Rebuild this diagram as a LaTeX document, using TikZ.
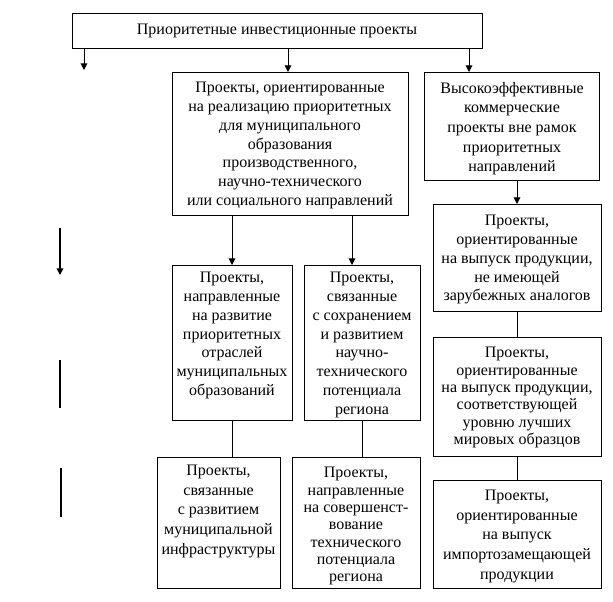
\documentclass[tikz,border=0pt]{standalone}
\usepackage{fontspec}
\setmainfont{Liberation Serif}
\usetikzlibrary{arrows.meta,fit}
\begin{document}
\begin{tikzpicture}[x=0.75pt,y=-0.75pt,
  box/.style={draw,line width=0.75pt,inner sep=0pt,outer sep=0pt},
  txt/.style={align=center,inner sep=0pt,font=\fontsize{12pt}{14.2pt}\selectfont},
  ttxt/.style={txt,anchor=north},
  tight/.style={font=\fontsize{12pt}{13pt}\selectfont},
  loose/.style={font=\fontsize{12pt}{14.7pt}\selectfont},
  arr/.style={line width=0.75pt,-{Triangle[width=5pt,length=5pt]}},
  ln/.style={line width=0.75pt},
  sideline/.style={line width=1pt}]
\useasboundingbox (0,0) rectangle (613,601);
% boxes
\node[box,fit={(72,13) (482,48)}] (top) {};
\node[txt] (topT) at (top.center) {Приоритетные инвестиционные проекты};
\node[box,fit={(172,72) (408,215)}] (mid) {};
\node[ttxt] (midT) at (290,81.5) {Проекты, ориентированные\\на реализацию приоритетных\\для муниципального\\образования\\производственного,\\научно-технического\\или социального направлений};
\node[box,fit={(424,72) (599,180)}] (r1) {};
\node[ttxt,loose] (r1T) at (512,82) {Высокоэффективные\\коммерческие\\проекты вне рамок\\приоритетных\\направлений};
\node[box,fit={(433,204) (601,311)}] (r2) {};
\node[ttxt] (r2T) at (517,214.5) {Проекты,\\ориентированные\\на выпуск продукции,\\не имеющей\\зарубежных аналогов};
\node[box,fit={(433,337) (601,456)}] (r3) {};
\node[ttxt,tight] (r3T) at (517,347) {Проекты,\\ориентированные\\на выпуск продукции,\\соответствующей\\уровню лучших\\мировых образцов};
\node[box,fit={(433,480) (601,588)}] (r4) {};
\node[ttxt,loose] (r4T) at (517,490) {Проекты,\\ориентированные\\на выпуск\\импортозамещающей\\продукции};
\node[box,fit={(172,265) (292,420)}] (m1) {};
\node[ttxt] (m1T) at (232,271.5) {Проекты,\\направленные\\на развитие\\приоритетных\\отраслей\\муниципальных\\образований};
\node[box,fit={(304,265) (420,420)}] (m2) {};
\node[ttxt] (m2T) at (362,271.5) {Проекты,\\связанные\\с сохранением\\и развитием\\научно-\\технического\\потенциала\\региона};
\node[box,fit={(157,457) (280,588)}] (b1) {};
\node[ttxt,loose] (b1T) at (218.5,465) {Проекты,\\связанные\\с развитием\\муниципальной\\инфраструктуры};
\node[box,fit={(292,457) (420,588)}] (b2) {};
\node[ttxt,tight] (b2T) at (356,467) {Проекты,\\направленные\\на совершенст-\\вование\\технического\\потенциала\\региона};
% connectors
\coordinate (lt) at (84,70);
\draw[arr] (84,0 |- top.south) -- (lt);
\draw[arr] (288,0 |- top.south) -- (288,0 |- mid.north);
\draw[arr] (469,0 |- top.south) -- (469,0 |- r1.north);
\draw[arr] (517,0 |- r1.south) -- (517,0 |- r2.north);
\draw[ln] (r2.south) -- (r3.north);
\draw[ln] (r3.south) -- (r4.north);
\draw[arr] (232,0 |- mid.south) -- (232,0 |- m1.north);
\draw[arr] (352,0 |- mid.south) -- (352,0 |- m2.north);
\draw[ln] (m1.south) -- (m1.south |- b1.north);
\draw[ln] (m2.south) -- (m2.south |- b2.north);
% left marks
\coordinate (a1) at (60,228); \coordinate (a2) at (60,275);
\coordinate (l1) at (60,360); \coordinate (l2) at (60,408);
\coordinate (l3) at (61,468); \coordinate (l4) at (61,517);
\draw[arr,line width=1pt] (a1) -- (a2);
\draw[sideline] (l1) -- (l2);
\draw[sideline] (l3) -- (l4);
\end{tikzpicture}
\end{document}
